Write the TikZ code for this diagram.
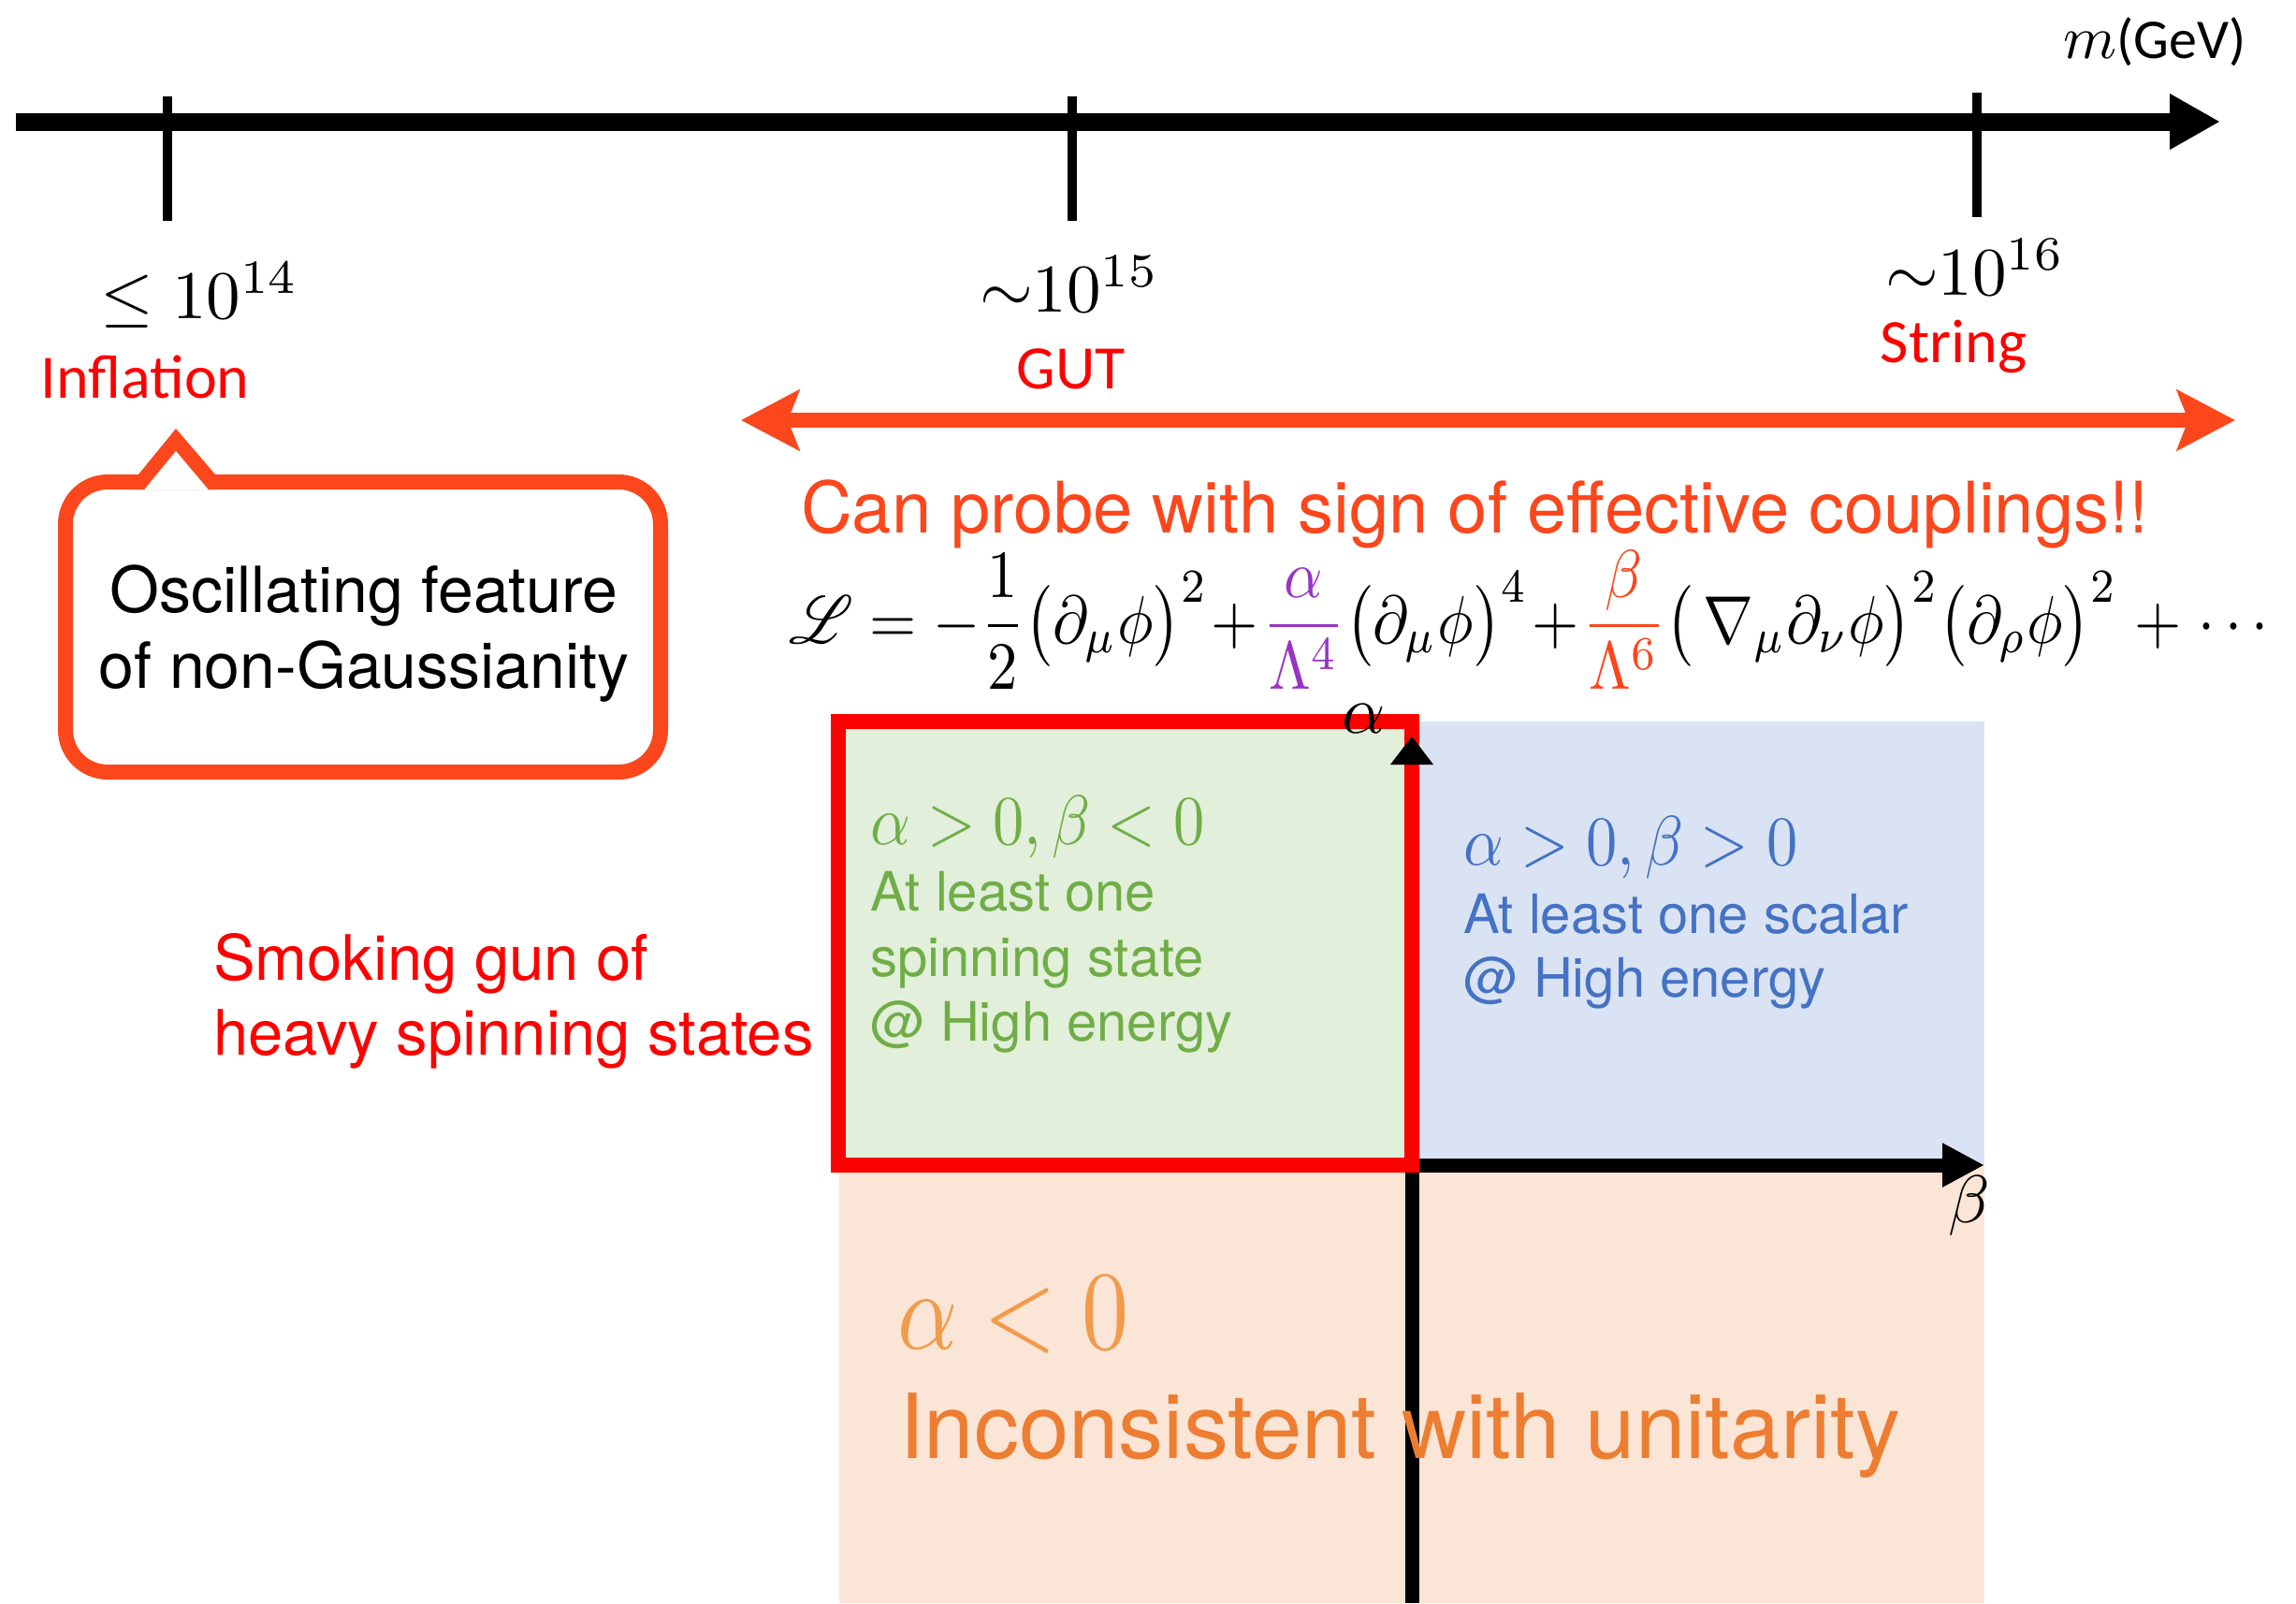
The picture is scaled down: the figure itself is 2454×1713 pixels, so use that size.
\documentclass[tikz,border=0pt]{standalone}
\usepackage{graphicx}
\IfFileExists{mathrsfs.sty}{\usepackage{mathrsfs}}{\newcommand{\mathscr}{\mathcal}}
\usepackage{fontspec}
\newfontfamily\helv{TeX Gyre Heros}
\newfontfamily\carl{Carlito}
\usetikzlibrary{arrows.meta}
\definecolor{probe}{RGB}{252,70,28}
\definecolor{purp}{RGB}{152,52,196}
\definecolor{grntxt}{RGB}{112,173,71}
\definecolor{grnfill}{RGB}{226,239,218}
\definecolor{blutxt}{RGB}{68,114,196}
\definecolor{blufill}{RGB}{218,227,243}
\definecolor{orgtxt}{RGB}{237,125,49}
\definecolor{orgmath}{RGB}{242,155,75}
\definecolor{orgfill}{RGB}{251,229,214}
\newcommand{\smath}[2]{\scalebox{#1}{$#2$}}
\newcommand{\nmath}[3]{\scalebox{#1}[#2]{$#3$}}
\begin{document}
\begin{tikzpicture}[x=1pt,y=-1pt,
  every node/.style={inner sep=0pt,outer sep=0pt},
  axisline/.style={line width=19pt,black},
  tickline/.style={line width=10pt,black},
  scalelbl/.style={anchor=base},
  eralbl/.style={anchor=base,text=red,font=\fontsize{66}{70}\selectfont\carl},
  probearrow/.style={line width=16pt,probe,{Stealth[length=62pt,width=64pt,inset=12pt]}-{Stealth[length=62pt,width=64pt,inset=12pt]}},
  calloutline/.style={line width=16pt,probe,rounded corners=45pt},
  callouttxt/.style={anchor=base,font=\fontsize{68}{80}\selectfont\helv},
  smoketxt/.style={anchor=base west,text=red,font=\fontsize{67}{80}\selectfont\helv},
  qmath/.style={anchor=base west},
  gline/.style={anchor=base west,text=grntxt,font=\fontsize{58}{70}\selectfont\helv},
  bline/.style={anchor=base west,text=blutxt,font=\fontsize{58}{70}\selectfont\helv},
  qaxis/.style={line width=15pt,black},
  redbox/.style={line width=16pt,red}
]
\useasboundingbox (0,0) rectangle (2454,1713);

% ---------- mass axis ----------
\coordinate (axL) at (17,130);
\coordinate (axR) at (2373,130);
\draw[axisline,-{Triangle[length=54pt,width=56pt]}] (axL) -- (axR);
\coordinate (t1a) at (179,103); \coordinate (t1b) at (179,236);
\coordinate (t2a) at (1146,103); \coordinate (t2b) at (1146,236);
\coordinate (t3a) at (2113,99); \coordinate (t3b) at (2113,232);
\draw[tickline] (t1a) -- (t1b);
\draw[tickline] (t2a) -- (t2b);
\draw[tickline] (t3a) -- (t3b);
\node[anchor=base] (unit) at (2303,62) {\smath{6.5}{m}{\fontsize{60}{60}\selectfont\carl(GeV)}};

\node[scalelbl] (s14) at (213,340) {\smath{7.3}{\leq 10^{14}}};
\node[scalelbl] (s15) at (1143,333) {\smath{7.3}{\mathord{\sim}10^{15}}};
\node[scalelbl] (s16) at (2111,315) {\smath{7.3}{\mathord{\sim}10^{16}}};
\node[eralbl] (inf) at (155,425) {Inflation};
\node[eralbl] (gut) at (1145,415) {GUT};
\node[eralbl] (str) at (2088,387) {String};

% ---------- probe range arrow ----------
\coordinate (pL) at (792,449);
\coordinate (pR) at (2389,449);
\draw[probearrow] (pL) -- (pR);

% ---------- callout ----------
\draw[calloutline] (70,515) rectangle (706,825);
\fill[probe] (148,507) -- (188,458) -- (230,507) -- (230,523) -- (148,523) -- cycle;
\fill[white] (154,523.5) -- (188,482) -- (223,523.5) -- cycle;
\node[callouttxt] (ct1) at (389,654) {Oscillating feature};
\node[callouttxt] (ct2) at (389,735) {of non-Gaussianity};

% ---------- probe text and Lagrangian ----------
\node[anchor=base west,text=probe,font=\fontsize{76}{80}\selectfont\helv] (cp) at (856,569) {Can probe with sign of effective couplings!!};
\node[anchor=base west] (lag) at (843,687) {\scalebox{1}[1.12]{\resizebox{1581pt}{!}{\medmuskip=1mu$\displaystyle
 \mathscr{L} = -\frac{1}{2}\bigl(\partial_\mu\phi\bigr)^2
 + \textcolor{purp}{\frac{\alpha}{\Lambda^4}}\bigl(\partial_\mu\phi\bigr)^4
 + \textcolor{probe}{\frac{\beta}{\Lambda^6}}\bigl(\,\nabla_\mu\partial_\nu\phi\bigr)^2\bigl(\partial_\rho\phi\bigr)^2 \mskip4mu+\mskip4mu \cdots$}}};

% ---------- quadrant chart ----------
\fill[orgfill] (897,1245) rectangle (2121,1713);
\fill[grnfill] (896,771) rectangle (1509,1245);
\fill[blufill] (1509,771) rectangle (2121,1245);

\coordinate (org) at (1509,1245);
\coordinate (vbot) at (1509,1713);
\coordinate (vbase) at (1509,815);
\coordinate (vtip) at (1509,787);
\coordinate (htip) at (2121,1245);
\draw[qaxis] (vbot) -- (vbase);
\draw[qaxis,-{Triangle[length=45pt,width=44pt]}] (org) -- (htip);

\draw[redbox] (896,771) rectangle (1509,1245);
\fill[black] (1486,817) -- (vtip) -- (1532,817) -- cycle;
\node (alab) at (1458,768) {\smath{7.2}{\alpha}};
\node (blab) at (2105,1288) {\smath{7.2}{\beta}};

\node[qmath,text=grntxt] (gmath) at (930,902) {\nmath{6.65}{7.5}{\alpha > 0, \beta < 0}};
\node[gline] (g1) at (930,973) {At least one};
\node[gline] (g2) at (930,1043) {spinning state};
\node[gline] (g3) at (930,1112) {@ High energy};

\node[qmath,text=blutxt] (bmath) at (1564,924) {\nmath{6.65}{7.5}{\alpha > 0, \beta > 0}};
\node[bline] (b1) at (1564,997) {At least one scalar};
\node[bline] (b2) at (1564,1065) {@ High energy};

\node[qmath,text=orgmath] (omath) at (959,1441) {\nmath{10}{12}{\alpha < 0}};
\node[anchor=base west,text=orgtxt,font=\fontsize{96}{100}\selectfont\helv] (o1) at (961,1558) {Inconsistent with unitarity};

\node[smoketxt] (sm1) at (228,1047) {Smoking gun of};
\node[smoketxt] (sm2) at (228,1127) {heavy spinning states};
\end{tikzpicture}
\end{document}
